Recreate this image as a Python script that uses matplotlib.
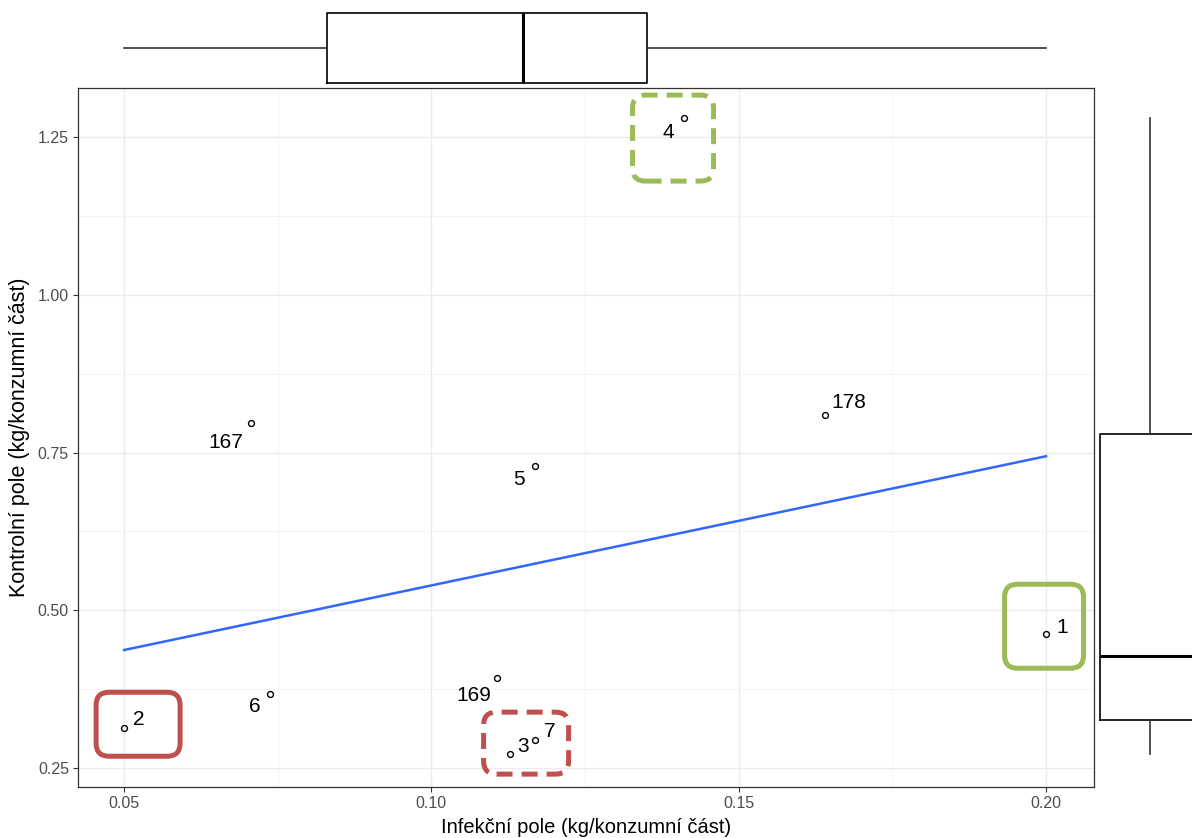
import numpy as np
import matplotlib.pyplot as plt
from matplotlib.patches import FancyBboxPatch
from matplotlib.transforms import IdentityTransform

plt.rcParams['font.family'] = ['Liberation Sans', 'DejaVu Sans']

# data
labels = ['1', '2', '3', '4', '5', '6', '7', '167', '169', '178']
infekcni = [0.200, 0.050, 0.1128, 0.1411, 0.1169, 0.0738, 0.1169, 0.0707, 0.1107, 0.1640]
kontrolni = [0.462, 0.313, 0.272, 1.280, 0.729, 0.367, 0.294, 0.796, 0.393, 0.809]

x_ticks = [0.05, 0.10, 0.15, 0.20]
x_ticklabels = ['0.05', '0.10', '0.15', '0.20']
y_ticks = [0.25, 0.50, 0.75, 1.00, 1.25]
y_ticklabels = ['0.25', '0.50', '0.75', '1.00', '1.25']

# label offsets in pixels (dx, dy), like ggrepel placed them
label_offsets = {'1': (16, 7), '2': (15, 9), '3': (13, 8), '7': (14, 9),
                 '4': (-16, -14), '5': (-16, -14), '6': (-16, -12),
                 '167': (-26, -19), '169': (-23, -18), '178': (24, 13)}

# highlight boxes: anchor label, centre offset (px), size (px), colour, style
highlights = [
    ('2', (14, 4), (84, 64), '#C0504D', 'solid'),
    ('3', (16, 11), (85, 62), '#C0504D', 'dashed'),
    ('4', (-11, -20), (81, 86), '#9BBB59', 'dashed'),
    ('1', (-2, 8), (79, 84), '#9BBB59', 'solid'),
]

W, H = 1192, 838
fig = plt.figure(figsize=(W / 100, H / 100), dpi=100)


def px_rect(l, t, r, b):
    return [l / W, 1 - b / H, (r - l) / W, (b - t) / H]


ax = fig.add_axes(px_rect(78, 88, 1094, 787))
ax_top = fig.add_axes(px_rect(78, 0, 1094, 88))
ax_right = fig.add_axes(px_rect(1094, 88, 1192, 787))

xlim = (0.0425, 0.2078)
ylim = (0.2199, 1.3277)

# main panel
ax.set_xlim(xlim)
ax.set_ylim(ylim)
ax.set_xticks(x_ticks)
ax.set_xticklabels(x_ticklabels)
ax.set_yticks(y_ticks)
ax.set_yticklabels(y_ticklabels)
ax.set_xticks([0.075, 0.125, 0.175], minor=True)
ax.set_yticks([0.375, 0.625, 0.875, 1.125], minor=True)
ax.grid(True, which='major', color='#EBEBEB', linewidth=1.0)
ax.grid(True, which='minor', color='#F2F2F2', linewidth=0.6)
ax.set_axisbelow(True)
ax.tick_params(which='minor', length=0)
ax.tick_params(which='major', length=3.5, color='#333333', labelcolor='#4D4D4D', labelsize=11.5, pad=3)
for sp in ax.spines.values():
    sp.set_color('#333333')
    sp.set_linewidth(0.9)

# linear fit line (geom_smooth method = lm, no se)
coef = np.polyfit(infekcni, kontrolni, 1)
xs = np.linspace(min(infekcni), max(infekcni), 80)
ax.plot(xs, np.polyval(coef, xs), color='#3366FF', linewidth=1.8, zorder=2)

ax.scatter(infekcni, kontrolni, s=18, facecolors='white', edgecolors='black', linewidths=1.0, zorder=3)

for lab, x, y in zip(labels, infekcni, kontrolni):
    ax.annotate(lab, (x, y), xytext=label_offsets[lab], textcoords='offset pixels',
                ha='center', va='center', fontsize=15, color='black', zorder=4)

ax.set_xlabel('Infekční pole (kg/konzumní část)', fontsize=14.5, color='black', labelpad=5)
ax.set_ylabel('Kontrolní pole (kg/konzumní část)', fontsize=15.5, color='black', labelpad=6)

# marginal boxplots
box_kw = dict(showfliers=False, showcaps=False, patch_artist=False,
              boxprops=dict(color='black', linewidth=1.2),
              whiskerprops=dict(color='#333333', linewidth=1.2),
              medianprops=dict(color='black', linewidth=2.2))

ax_top.boxplot(infekcni, orientation='horizontal', positions=[40], widths=70, **box_kw)
ax_top.set_xlim(xlim)
ax_top.set_ylim(0, 88)
ax_top.axis('off')

ax_right.boxplot(kontrolni, positions=[55.5], widths=100, **box_kw)
ax_right.set_ylim(ylim)
ax_right.set_xlim(0, 98)
ax_right.axis('off')

# highlight rectangles, placed around the labelled points
pos = dict(zip(labels, zip(infekcni, kontrolni)))
for anchor, (dx, dy), (w, h), col, ls in highlights:
    cx, cy = ax.transData.transform(pos[anchor])
    cx += dx
    cy += dy
    patch = FancyBboxPatch((cx - w / 2, cy - h / 2), w, h,
                           boxstyle='round,pad=0,rounding_size=13',
                           transform=IdentityTransform(), fill=False,
                           edgecolor=col, linewidth=3.6, zorder=10)
    if ls == 'dashed':
        patch.set_linestyle((0, (3.2, 1.8)))
    fig.add_artist(patch)

fig.savefig('out.png', dpi=100)
